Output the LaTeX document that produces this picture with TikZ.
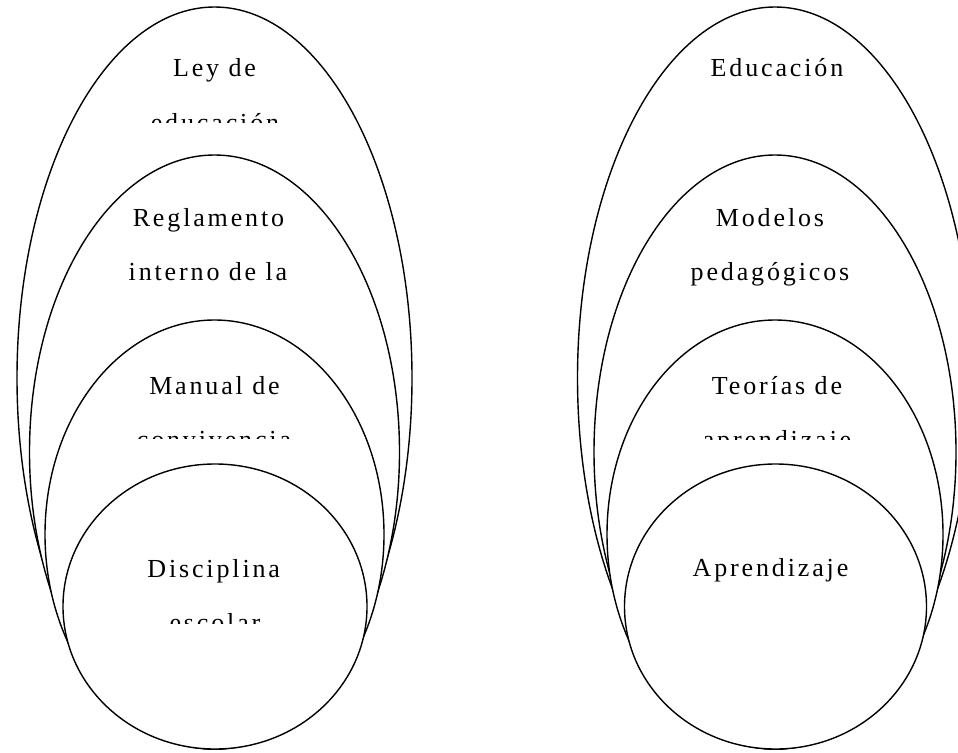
\documentclass[tikz,border=0pt]{standalone}
\usepackage{fontspec}
\setmainfont{Liberation Serif}
\newfontfamily\lsfont[LetterSpace=11]{Liberation Serif}
\usetikzlibrary{shapes.geometric}
\begin{document}
\begin{tikzpicture}[x=1pt,y=-1pt,
  ring/.style={ellipse, draw=black, fill=white, line width=1.4pt, inner sep=0pt, outer sep=0pt},
  lbl/.style={anchor=base, inner sep=0pt, font=\lsfont\fontsize{26}{26}\selectfont}]
\useasboundingbox (0,0) rectangle (958,752);
\clip (0,0) rectangle (958,752);
% ---------- left group ----------
\node[ring, minimum width=395pt, minimum height=742pt] (L1) at (214.5,378) {};
\node[lbl] (L1a) at (214.5,77) {Ley de};
\begin{scope}
  \clip (100,90) rectangle (330,122);
  \node[lbl] (L1b) at (215,131) {educación};
\end{scope}
\node[ring, minimum width=370pt, minimum height=594pt] (L2) at (214.5,452) {};
\node[lbl] (L2a) at (208.5,226) {Reglamento};
\node[lbl] (L2b) at (208,280) {interno de la};
\node[ring, minimum width=339pt, minimum height=429pt] (L3) at (214.5,534.5) {};
\node[lbl] (L3a) at (214.5,394) {Manual de};
\begin{scope}
  \clip (100,405) rectangle (330,438);
  \node[lbl] (L3b) at (214,448) {convivencia};
\end{scope}
\node[ring, minimum width=304pt, minimum height=285pt] (L4) at (215,606.5) {};
\node[lbl] (L4a) at (213.7,577) {Disciplina};
\begin{scope}
  \clip (100,590) rectangle (330,623);
  \node[lbl] (L4b) at (215,631) {escolar};
\end{scope}
% ---------- right group ----------
\node[ring, minimum width=395pt, minimum height=742pt] (R1) at (775,378) {};
\node[lbl] (R1a) at (777,77) {Educación};
\node[ring, minimum width=362pt, minimum height=594pt] (R2) at (775,452) {};
\node[lbl] (R2a) at (770,226) {Modelos};
\node[lbl] (R2b) at (770,280) {pedagógicos};
\node[ring, minimum width=336pt, minimum height=429pt] (R3) at (775,534.5) {};
\node[lbl] (R3a) at (777,394) {Teorías de};
\begin{scope}
  \clip (660,405) rectangle (890,439);
  \node[lbl] (R3b) at (777,448) {aprendizaje};
\end{scope}
\node[ring, minimum width=302pt, minimum height=285pt] (R4) at (775.5,606.5) {};
\node[lbl] (R4a) at (770.5,576) {Aprendizaje};
\end{tikzpicture}
\end{document}
